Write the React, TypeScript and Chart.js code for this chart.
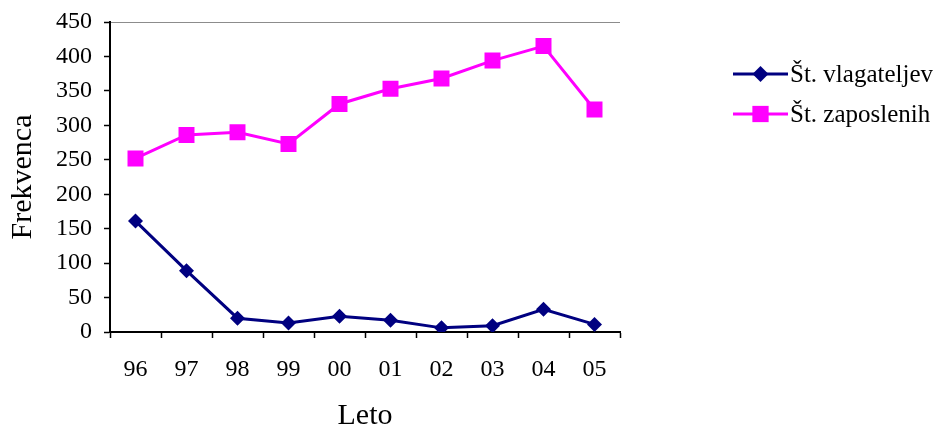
import React, { useEffect, useRef } from "react";
import { Chart, registerables } from "chart.js";

Chart.register(...registerables);

const years = ["96", "97", "98", "99", "00", "01", "02", "03", "04", "05"];
const vlagatelji = [161, 89, 20, 13, 23, 17, 6, 9, 33, 11];
const zaposleni = [252, 286, 290, 273, 331, 353, 368, 394, 415, 323];
const seriesNames = ["Št. vlagateljev", "Št. zaposlenih"];
const yTicks = { min: 0, max: 450, step: 50 };
const axisTitles = { x: "Leto", y: "Frekvenca" };

const NAVY = "#000080";
const MAGENTA = "#FF00FF";
const SERIF = "'Liberation Serif', 'Times New Roman', serif";

function drawMarker(ctx: CanvasRenderingContext2D, style: string, x: number, y: number, r: number, color: string) {
  ctx.save();
  ctx.fillStyle = color;
  ctx.beginPath();
  if (style === "rectRot") {
    ctx.moveTo(x - r, y);
    ctx.lineTo(x, y - r);
    ctx.lineTo(x + r, y);
    ctx.lineTo(x, y + r);
    ctx.closePath();
  } else {
    const s = r * Math.SQRT1_2;
    ctx.rect(x - s, y - s, 2 * s, 2 * s);
  }
  ctx.fill();
  ctx.restore();
}

const legendPlugin = {
  id: "customLegend",
  afterDraw(chart: any) {
    const ctx = chart.ctx as CanvasRenderingContext2D;
    const items = chart.data.datasets.map((d: any) => ({
      label: d.label,
      color: d.borderColor,
      style: d.pointStyle,
    }));
    const x0 = 733;
    const x1 = 788;
    const rows = [74, 114];
    items.forEach((it: any, i: number) => {
      const y = rows[i];
      ctx.save();
      ctx.strokeStyle = it.color;
      ctx.lineWidth = 3;
      ctx.beginPath();
      ctx.moveTo(x0, y);
      ctx.lineTo(x1, y);
      ctx.stroke();
      drawMarker(ctx, it.style, (x0 + x1) / 2, y, it.style === "rectRot" ? 8 : 11.5, it.color);
      ctx.fillStyle = "#000";
      ctx.font = `25px ${SERIF}`;
      ctx.textBaseline = "middle";
      ctx.textAlign = "left";
      ctx.fillText(it.label, x1 + 2, y + 1);
      ctx.restore();
    });
  },
};

export default function App() {
  const ref = useRef<HTMLCanvasElement>(null);

  useEffect(() => {
    if (!ref.current) return;
    const chart = new Chart(ref.current, {
      type: "line",
      data: {
        labels: years,
        datasets: [
          {
            label: seriesNames[0],
            data: vlagatelji,
            borderColor: NAVY,
            backgroundColor: NAVY,
            borderWidth: 3,
            pointStyle: "rectRot",
            pointRadius: 7.5,
            pointBorderWidth: 0,
            tension: 0,
          },
          {
            label: seriesNames[1],
            data: zaposleni,
            borderColor: MAGENTA,
            backgroundColor: MAGENTA,
            borderWidth: 3,
            pointStyle: "rect",
            pointRadius: 11.3,
            pointBorderWidth: 0,
            tension: 0,
          },
        ],
      },
      options: {
        responsive: false,
        animation: false,
        layout: { padding: { left: 0, top: 22, right: 318, bottom: 0 } },
        plugins: {
          legend: { display: false },
          tooltip: { enabled: false },
        },
        scales: {
          x: {
            type: "category",
            offset: true,
            afterFit: (s: any) => {
              s.height = 98;
              s.paddingLeft = 0;
              s.paddingRight = 0;
            },
            grid: {
              offset: true,
              drawOnChartArea: false,
              drawTicks: true,
              tickLength: 6,
              tickColor: "#000",
              tickWidth: 1.5,
            },
            border: { display: true, color: "#000", width: 2 },
            ticks: {
              color: "#000",
              font: { family: SERIF, size: 24 },
              padding: 17,
              maxRotation: 0,
              autoSkip: false,
            },
            title: {
              display: true,
              text: axisTitles.x,
              color: "#000",
              font: { family: SERIF, size: 30, lineHeight: 0.9 },
              padding: { top: 0, bottom: 0 },
            },
          },
          y: {
            min: yTicks.min,
            max: yTicks.max,
            afterFit: (s: any) => {
              s.width = 110;
              s.paddingTop = 0;
              s.paddingBottom = 0;
            },
            grid: {
              drawOnChartArea: true,
              color: (c: any) => (c.tick && c.tick.value === yTicks.max ? "#8c8c8c" : "rgba(0,0,0,0)"),
              lineWidth: 1,
              drawTicks: true,
              tickLength: 6,
              tickColor: "#000",
              tickWidth: 1.5,
            },
            border: { display: true, color: "#000", width: 2 },
            ticks: {
              stepSize: yTicks.step,
              color: "#000",
              font: { family: SERIF, size: 24 },
              padding: 12,
            },
            title: {
              display: true,
              text: axisTitles.y,
              color: "#000",
              font: { family: SERIF, size: 30, lineHeight: 1 },
              padding: { top: 8, bottom: 0 },
            },
          },
        },
      },
      plugins: [legendPlugin],
    });
    return () => chart.destroy();
  }, []);

  return (
    <div style={{ position: "fixed", left: 0, top: 0, width: 938, height: 430, background: "#fff" }}>
      <canvas ref={ref} width={938} height={430} style={{ display: "block", width: 938, height: 430 }} />
    </div>
  );
}
